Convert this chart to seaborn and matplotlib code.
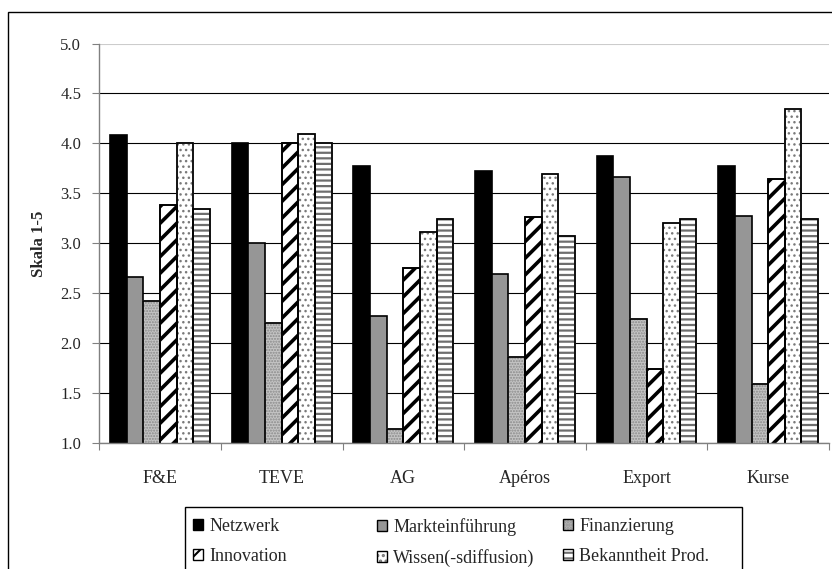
import pandas as pd
import seaborn as sns
import matplotlib.pyplot as plt
import matplotlib as mpl
from matplotlib.patches import Rectangle
from matplotlib.legend_handler import HandlerTuple

# data
kategorien = ['F&E', 'TEVE', 'AG', 'Apéros', 'Export', 'Kurse']
merkmale = ['Netzwerk', 'Markteinführung', 'Finanzierung',
            'Innovation', 'Wissen(-sdiffusion)', 'Bekanntheit Prod.']
netzwerk = [4.08, 4.00, 3.77, 3.72, 3.87, 3.77]
markteinfuehrung = [2.66, 3.00, 2.27, 2.69, 3.66, 3.27]
finanzierung = [2.42, 2.20, 1.14, 1.86, 2.24, 1.59]
innovation = [3.38, 4.00, 2.75, 3.26, 1.74, 3.64]
wissen = [4.00, 4.09, 3.11, 3.69, 3.20, 4.34]
bekanntheit = [3.34, 4.00, 3.24, 3.07, 3.24, 3.24]
y_ticks = [1.0, 1.5, 2.0, 2.5, 3.0, 3.5, 4.0, 4.5, 5.0]

serien = [netzwerk, markteinfuehrung, finanzierung, innovation, wissen, bekanntheit]
df = pd.DataFrame([
    {'Kategorie': k, 'Merkmal': m, 'Wert': v}
    for m, werte in zip(merkmale, serien)
    for k, v in zip(kategorien, werte)
])

# fill, hatch, hatch colour, hatch linewidth per series
faces = ['#000000', '#969696', '#c4c4c4', '#ffffff', '#ffffff', '#ffffff']
hatches = [None, None, '......', '//', '...', '---']
hatch_cols = ['#000000', '#000000', '#8a8a8a', '#000000', '#7a7a7a', '#6e6e6e']
hatch_lws = [1.0, 1.0, 1.0, 2.6, 1.0, 1.6]

sns.set_theme(style='white')
plt.rcParams['font.family'] = ['Liberation Serif', 'DejaVu Serif']
plt.rcParams['hatch.linewidth'] = 1.5

W, H = 832, 569
fig = plt.figure(figsize=(W / 100, H / 100), dpi=100)
ax = fig.add_axes([99.3 / W, 1 - 443.3 / H, (829 - 99.3) / W, (443.3 - 43.5) / H])

sns.barplot(data=df, x='Kategorie', y='Wert', hue='Merkmal', order=kategorien,
            hue_order=merkmale, palette=dict(zip(merkmale, faces)),
            width=0.82, edgecolor='black', linewidth=1.2, saturation=1,
            legend=False, ax=ax)

for i, cont in enumerate(ax.containers):
    for p in cont.patches:
        if hatches[i] is None:
            continue
        p.set_hatch(hatches[i])
        p.set_edgecolor(hatch_cols[i])
        if hasattr(p, 'set_hatch_linewidth'):
            p.set_hatch_linewidth(hatch_lws[i])
        ax.add_patch(Rectangle(p.get_xy(), p.get_width(), p.get_height(),
                               fill=False, edgecolor='black', linewidth=1.2,
                               zorder=p.get_zorder() + 0.1))

ax.set_ylim(1.0, 5.0)
ax.set_yticks(y_ticks)
ax.set_yticklabels([f'{t:.1f}' for t in y_ticks], fontsize=12)
ax.set_xlim(-0.5, len(kategorien) - 0.5)
ax.set_xticks([i + 0.5 for i in range(-1, len(kategorien))])
ax.set_xticklabels([])
ax.set_xticks(range(len(kategorien)), minor=True)
ax.set_xticklabels(kategorien, minor=True, fontsize=13)
ax.tick_params(axis='x', which='minor', length=0, pad=19)
ax.tick_params(axis='x', which='major', direction='out', length=5, width=0.8,
               color='#808080', bottom=True)
ax.tick_params(axis='y', direction='out', length=5, width=0.8, color='#808080',
               left=True, pad=8)
ax.set_xlabel('')
ax.set_ylabel('Skala 1-5', fontsize=12, fontweight='bold')
ax.yaxis.set_label_coords((47 - 99.3) / 729.7, 0.5)

ax.yaxis.grid(True, color='black', linewidth=0.8)
ax.set_axisbelow(True)
ax.get_ygridlines()[-1].set_color('#cccccc')
for s in ['top', 'right']:
    ax.spines[s].set_visible(False)
for s in ['left', 'bottom']:
    ax.spines[s].set_color('#808080')
    ax.spines[s].set_linewidth(1.0)

# legend: three columns laid out like the original, black-edged swatches
handles = []
for i in range(len(merkmale)):
    h1 = Rectangle((0, 0), 1, 1, facecolor=faces[i], hatch=hatches[i],
                   edgecolor=hatch_cols[i], linewidth=0)
    h2 = Rectangle((0, 0), 1, 1, fill=False, edgecolor='black', linewidth=1.0)
    handles.append((h1, h2))

col_x = [193, 377, 563]
for c, x in enumerate(col_x):
    idx = [c, c + 3]
    fig.legend([handles[j] for j in idx], [merkmale[j] for j in idx],
               handler_map={tuple: HandlerTuple(ndivide=1, pad=0)},
               loc='upper left', bbox_to_anchor=(x / W, 1 - 518 / H),
               fontsize=13, frameon=False, borderpad=0, borderaxespad=0,
               handlelength=0.56, handleheight=0.56, handletextpad=0.33,
               labelspacing=0.72)

fig.patches.append(Rectangle((185 / W, -0.05), (742 - 185) / W, 1 - 507 / H + 0.05,
                             transform=fig.transFigure, fill=False,
                             edgecolor='black', linewidth=1.0))

# outer chart frame
fig.patches.append(Rectangle((8 / W, -0.05), 1.0, 1 - 12 / H + 0.05,
                             transform=fig.transFigure, fill=False,
                             edgecolor='black', linewidth=1.0))

fig.savefig('out.png', dpi=100)
